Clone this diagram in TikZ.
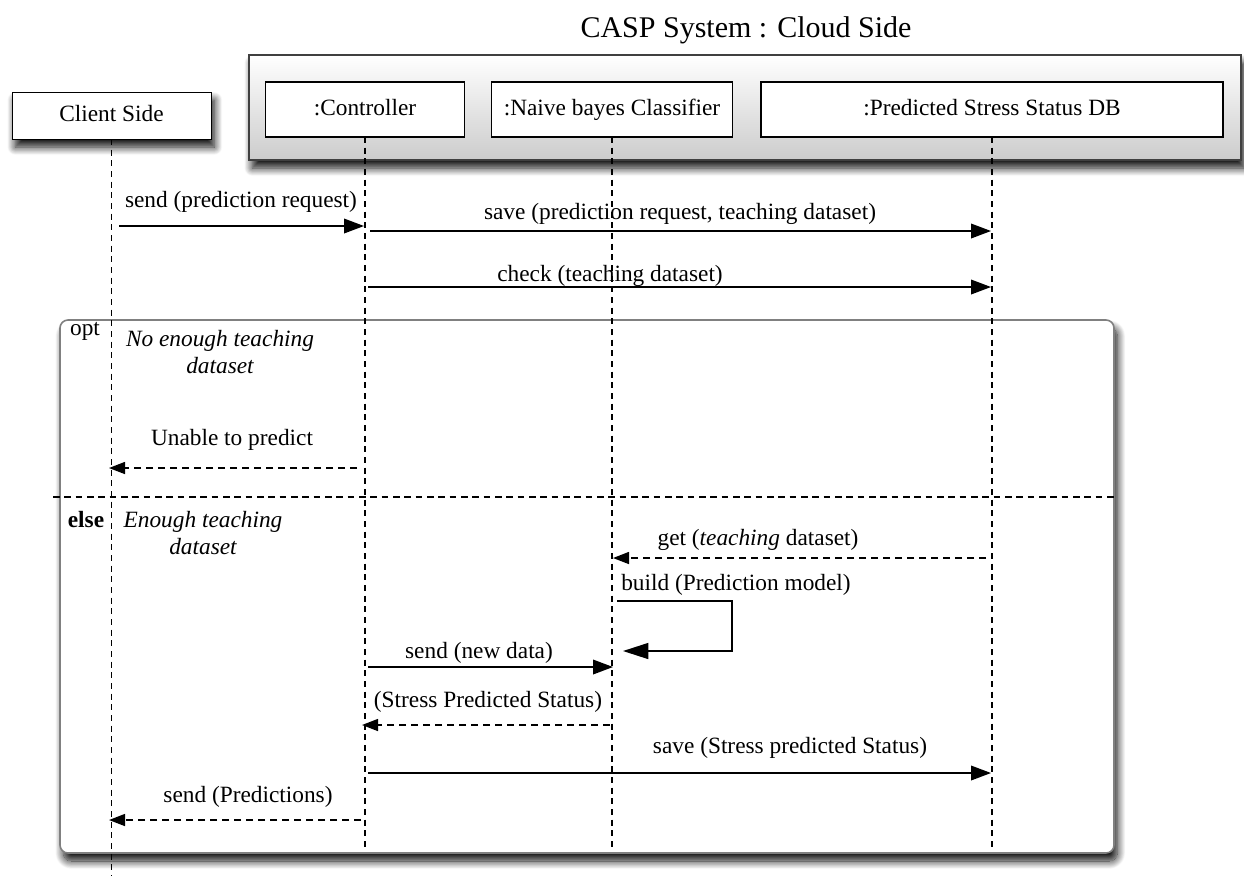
\documentclass[tikz,border=0pt]{standalone}
\usepackage{fontspec}
\setmainfont{Liberation Serif}
\usetikzlibrary{arrows.meta,shadows.blur,calc}
\begin{document}
\begin{tikzpicture}[x=0.75pt,y=-0.75pt,
  every node/.style={font=\fontsize{17.5}{20}\selectfont, inner sep=0pt, outer sep=0pt},
  headbox/.style={draw=black, line width=0.9pt, fill=white, minimum height=41.25pt, text height=12pt, text depth=3.5pt},
  lifeline/.style={line width=1.1pt, dash pattern=on 4.5pt off 3.5pt},
  msg/.style={line width=1.1pt, -{Triangle[length=15pt,width=11pt]}},
  ret/.style={line width=1.1pt, dash pattern=on 5.5pt off 3.5pt, -{Triangle[length=12pt,width=9pt]}},
  selfmsg/.style={line width=1.1pt, -{Triangle[length=19pt,width=12pt]}},
  sh/.style={blur shadow={shadow xshift=2.5pt, shadow yshift=-6pt, shadow blur radius=6pt, shadow blur steps=14, shadow opacity=95}},
  guard/.style={font=\fontsize{17.5}{20}\selectfont\itshape, align=center}
]
\useasboundingbox (0,0) rectangle (1244,876);
% title
\node (title) at (746,30) {\fontsize{22.5}{26}\selectfont CASP System : Cloud Side};
% cloud container
\node[sh, draw=black!75, line width=0.8pt, top color=white, bottom color=black!20, minimum width=744pt, minimum height=78.75pt] (cloud) at (745,107.5) {};
% opt frame
\node[sh, draw=black!50, line width=1.2pt, fill=white, rounded corners=6pt, minimum width=790.5pt, minimum height=399.75pt] (opt) at (587,586.5) {};
% lifeline heads
\node[headbox, sh, line width=0.7pt, minimum width=149.25pt, minimum height=35.25pt] (client) at (111.5,115.5) {Client Side};
\node[headbox, minimum width=149.25pt] (ctrl) at (365,109.5) {:Controller};
\node[headbox, minimum width=180.75pt] (nbc) at (612,109.5) {:Naive bayes Classifier};
\node[headbox, minimum width=346.5pt] (db) at (992,109.5) {:Predicted Stress Status DB};
% lifelines
\coordinate (clEnd) at (111.5,876);
\coordinate (ctEnd) at (365,850);
\coordinate (nbEnd) at (612,850);
\coordinate (dbEnd) at (992,850);
\draw[lifeline, line width=0.8pt] (client.south) -- (clEnd);
\draw[lifeline] (ctrl.south) -- (ctEnd);
\draw[lifeline] (nbc.south) -- (nbEnd);
\draw[lifeline] (db.south) -- (dbEnd);
% opt separator
\coordinate (sepL) at (53,497);
\coordinate (sepR) at (1115,497);
\draw[line width=1.1pt, dash pattern=on 5pt off 3.5pt] (sepL) -- (sepR);
% frame labels
\node (optlbl) at (85,331) {opt};
\node[guard] (g1) at (220,352) {No enough teaching\\dataset};
\node (elselbl) at (86,520) {\bfseries else};
\node[guard] (g2) at (203,533) {Enough teaching\\dataset};
% messages
\coordinate (m1s) at (119,226); \coordinate (m1e) at (364,226);
\draw[msg] (m1s) -- (m1e);
\node (l1) at (241,202) {send (prediction request)};
\coordinate (m2s) at (370,231); \coordinate (m2e) at (991,231);
\draw[msg] (m2s) -- (m2e);
\node (l2) at (680,214) {save (prediction request, teaching dataset)};
\coordinate (m3s) at (368,287); \coordinate (m3e) at (991,287);
\draw[msg] (m3s) -- (m3e);
\node (l3) at (610,276) {check (teaching dataset)};
\coordinate (m4s) at (357,468); \coordinate (m4e) at (109,468);
\draw[ret] (m4s) -- (m4e);
\node (l4) at (232,440) {Unable to predict};
\coordinate (m5s) at (986,558); \coordinate (m5e) at (613,558);
\draw[ret] (m5s) -- (m5e);
\node (l5) at (758,540) {get (\textit{teaching} dataset)};
\coordinate (m6s) at (617,601); \coordinate (m6a) at (732,601); \coordinate (m6b) at (732,651); \coordinate (m6e) at (623,651);
\draw[selfmsg] (m6s) -- (m6a) -- (m6b) -- (m6e);
\node (l6) at (736,585) {build (Prediction model)};
\coordinate (m7s) at (368,667); \coordinate (m7e) at (613,667);
\draw[msg] (m7s) -- (m7e);
\node (l7) at (479,653) {send (new data)};
\coordinate (m8s) at (610,725); \coordinate (m8e) at (362,725);
\draw[ret] (m8s) -- (m8e);
\node (l8) at (488,702) {(Stress Predicted Status)};
\coordinate (m9s) at (368,773); \coordinate (m9e) at (991,773);
\draw[msg] (m9s) -- (m9e);
\node (l9) at (790,748) {save (Stress predicted Status)};
\coordinate (m10s) at (361,820); \coordinate (m10e) at (109,820);
\draw[ret] (m10s) -- (m10e);
\node (l10) at (248,797) {send (Predictions)};
\end{tikzpicture}
\end{document}
